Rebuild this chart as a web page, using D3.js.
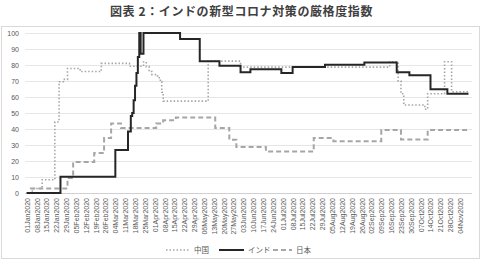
<!DOCTYPE html>
<html><head><meta charset="utf-8">
<script src="https://cdn.jsdelivr.net/npm/d3@7/dist/d3.min.js"></script>
<style>
body{margin:0;background:#fff;}
svg{display:block;font-family:"Liberation Sans","Noto Sans CJK JP",sans-serif;}
</style></head>
<body><svg id="c" width="483" height="260"></svg>
<script>
const title = "図表 2：インドの新型コロナ対策の厳格度指数";
const yTicks = [0,10,20,30,40,50,60,70,80,90,100];
const xTickLabels = ["01Jan2020","08Jan2020","15Jan2020","22Jan2020","29Jan2020","05Feb2020","12Feb2020","19Feb2020","26Feb2020","04Mar2020","11Mar2020","18Mar2020","25Mar2020","01Apr2020","08Apr2020","15Apr2020","22Apr2020","29Apr2020","06May2020","13May2020","20May2020","27May2020","03Jun2020","10Jun2020","17Jun2020","24Jun2020","01Jul2020","08Jul2020","15Jul2020","22Jul2020","29Jul2020","05Aug2020","12Aug2020","19Aug2020","26Aug2020","02Sep2020","09Sep2020","16Sep2020","23Sep2020","30Sep2020","07Oct2020","14Oct2020","21Oct2020","28Oct2020","04Nov2020"];
const seriesNames = ["中国","インド","日本"];

// step change points (date the value starts) per series
const chinaDates  = ["2020-01-01","2020-01-05","2020-01-12","2020-01-21","2020-01-24","2020-01-27","2020-01-30","2020-02-08","2020-02-23","2020-03-14","2020-03-24","2020-03-26","2020-03-28","2020-03-30","2020-04-03","2020-04-05","2020-04-06","2020-04-07","2020-05-09","2020-06-01","2020-09-15","2020-09-21","2020-09-23","2020-09-25","2020-10-10","2020-10-12","2020-10-24","2020-10-29","2020-11-10"];
const chinaValues = [0,2.78,8.3,44.4,69.5,71,77.8,75.9,81,79.2,81.9,79,75.9,74,72,69.6,63,57.4,82.4,78.7,82,70,62,55,52.3,62,82,63.3,63.3];

const indiaDates  = ["2020-01-01","2020-01-25","2020-03-04","2020-03-13","2020-03-15","2020-03-16","2020-03-17","2020-03-18","2020-03-19","2020-03-20","2020-03-21","2020-03-22","2020-03-24","2020-04-19","2020-05-03","2020-05-17","2020-06-01","2020-06-08","2020-06-30","2020-07-08","2020-07-31","2020-08-28","2020-09-20","2020-09-29","2020-10-14","2020-10-26","2020-11-10"];
const indiaValues = [0,10.19,26.85,38.4,48.1,50,58,67,75,85,100,87,100,96.3,82.4,79.6,75.5,77.3,75,78.7,80.1,81.5,75.5,73.6,64.8,62,62];

const japanDates  = ["2020-01-01","2020-01-04","2020-01-30","2020-02-03","2020-02-18","2020-02-25","2020-03-01","2020-03-08","2020-04-02","2020-04-07","2020-04-16","2020-05-14","2020-05-24","2020-05-29","2020-06-19","2020-07-23","2020-08-06","2020-09-09","2020-09-23","2020-10-12","2020-11-09"];
const japanValues = [0,2.78,9.3,19.4,25,34.3,43.5,40.7,43.5,45.4,47.2,40.7,33.3,28.7,25.9,34.3,32.4,39.3,33.5,39.3,39.3];

const svg = d3.select("#c");
const W = 483, H = 260;
const iso = d3.utcParse("%Y-%m-%d");
const lab = d3.utcParse("%d%b%Y");

// frame
svg.append("rect").attr("x",1.5).attr("y",26.5).attr("width",478).attr("height",232)
  .attr("fill","none").attr("stroke","#d9d9d9").attr("stroke-width",1);

svg.append("text").attr("x",W/2).attr("y",16).attr("text-anchor","middle")
  .attr("font-family","'Noto Sans CJK JP',sans-serif").attr("font-weight","bold")
  .attr("font-size",12).attr("letter-spacing",0.6).attr("fill","#404040").text(title);

const x = d3.scaleUtc().domain([iso("2020-01-01"), iso("2020-11-12")]).range([26.7, 471.3]);
const y = d3.scaleLinear().domain([0,100]).range([193,33]);

// gridlines + y labels
const yAxis = d3.axisLeft(y).tickValues(yTicks).tickSize(-(472-25)).tickPadding(6);
const gy = svg.append("g").attr("transform","translate(25,0)").call(yAxis);
gy.select(".domain").remove();
gy.selectAll(".tick line").attr("stroke","#e0e0e0").attr("stroke-width",0.8);
gy.selectAll(".tick text").attr("font-size",7).attr("fill","#595959").attr("x",-6);

// x axis
const xAxis = d3.axisBottom(x).tickValues(xTickLabels.map(lab)).tickSize(0)
  .tickFormat((d,i)=>xTickLabels[i]);
const gx = svg.append("g").attr("transform","translate(0,193)").call(xAxis);
gx.select(".domain").attr("d","M25,0.5H472").attr("stroke","#d0d0d0");
gx.selectAll(".tick text").attr("font-size",7).attr("fill","#595959")
  .attr("text-anchor","end").attr("transform","rotate(-90)")
  .attr("x",-5).attr("y",0).attr("dy","0.35em");

function series(dates, vals){ return dates.map((d,i)=>({d:iso(d), v:vals[i]})); }
const line = d3.line().x(p=>x(p.d)).y(p=>y(p.v)).curve(d3.curveStepAfter);

const styles = [
  {data:series(chinaDates,chinaValues), stroke:"#a6a6a6", w:1.6, dash:"1.5,2"},
  {data:series(japanDates,japanValues), stroke:"#a6a6a6", w:2, dash:"5,3"},
  {data:series(indiaDates,indiaValues), stroke:"#262626", w:2, dash:null}
];
styles.forEach(s=>{
  svg.append("path").datum(s.data).attr("d",line).attr("fill","none")
    .attr("stroke",s.stroke).attr("stroke-width",s.w)
    .attr("stroke-dasharray",s.dash).attr("stroke-linejoin","miter");
});

// legend
const leg = [
  {name:seriesNames[0], x1:166, x2:190, stroke:"#a6a6a6", w:1.6, dash:"1.5,2"},
  {name:seriesNames[1], x1:219, x2:244, stroke:"#262626", w:2, dash:null},
  {name:seriesNames[2], x1:273, x2:292, stroke:"#a6a6a6", w:2, dash:"5,3"}
];
const ly = 250;
leg.forEach(l=>{
  svg.append("line").attr("x1",l.x1).attr("x2",l.x2).attr("y1",ly).attr("y2",ly)
    .attr("stroke",l.stroke).attr("stroke-width",l.w).attr("stroke-dasharray",l.dash);
  svg.append("text").attr("x",l.x2+4).attr("y",ly).attr("dy","0.35em")
    .attr("font-family","'Noto Sans CJK JP',sans-serif")
    .attr("font-size",7.5).attr("fill","#595959").text(l.name);
});
</script></body></html>
